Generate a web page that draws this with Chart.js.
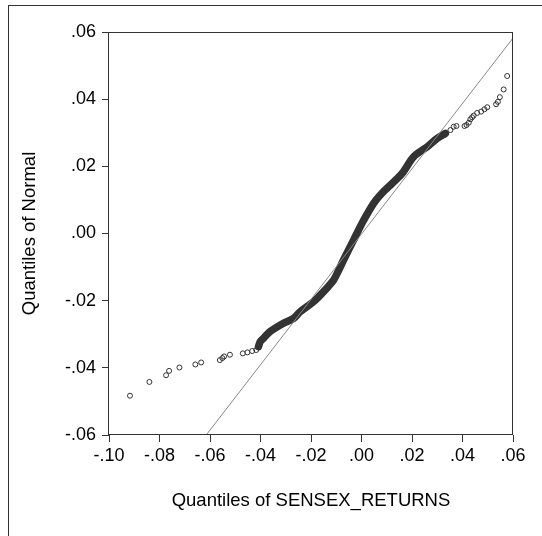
<!DOCTYPE html>
<html>
<head>
<meta charset="utf-8">
<script src="https://cdn.jsdelivr.net/npm/chart.js@4.4.1/dist/chart.umd.min.js"></script>
<style>
  html,body{margin:0;padding:0;background:#fff;}
  #wrap{position:relative;width:542px;height:536px;overflow:hidden;}
  #frame{position:absolute;left:8px;top:5px;width:600px;height:600px;border:1px solid #333;}
  #qq{position:absolute;left:0;top:0;}
</style>
</head>
<body>
<div id="wrap">
  <div id="frame"></div>
  <canvas id="qq" width="542" height="536"></canvas>
</div>
<script>
// sparse lower tail (SENSEX quantile, normal quantile)
const lowerTailX = [-0.0917,-0.0840,-0.0774,-0.0762,-0.0721,-0.0658,-0.0635,-0.0561,-0.0551,-0.0544,-0.0521,-0.0470,-0.0452,-0.0433,-0.0417];
const lowerTailY = [-0.0483,-0.0442,-0.0422,-0.0409,-0.0399,-0.0390,-0.0384,-0.0377,-0.0371,-0.0366,-0.0361,-0.0357,-0.0354,-0.0350,-0.0347];

// dense body of the plot, read along the band
const bodyX = [-0.0408,-0.0401,-0.0388,-0.0362,-0.0309,-0.0269,-0.0243,-0.0190,-0.0150,-0.0111,-0.0094,-0.0071,-0.0031,0.0009,0.0048,0.0081,0.0121,0.0161,0.0207,0.0260,0.0299,0.0332];
const bodyY = [-0.0337,-0.0322,-0.0312,-0.0292,-0.0267,-0.0253,-0.0233,-0.0203,-0.0173,-0.0139,-0.0115,-0.0079,-0.0019,0.0040,0.0090,0.0120,0.0149,0.0179,0.0229,0.0258,0.0283,0.0298];

// sparse upper tail
const upperTailX = [0.0352,0.0365,0.0376,0.0408,0.0416,0.0425,0.0431,0.0438,0.0444,0.0458,0.0474,0.0487,0.0498,0.0533,0.0540,0.0548,0.0563,0.0577];
const upperTailY = [0.0308,0.0318,0.0320,0.0320,0.0323,0.0330,0.0340,0.0346,0.0351,0.0359,0.0363,0.0370,0.0376,0.0385,0.0392,0.0406,0.0429,0.0469];

// reference line
const refLineX = [-0.0615, 0.06];
const refLineY = [-0.06, 0.0582];

const xTicks = [-0.10,-0.08,-0.06,-0.04,-0.02,0,0.02,0.04,0.06];
const xTickLabels = ["-.10","-.08","-.06","-.04","-.02",".00",".02",".04",".06"];
const yTicks = [-0.06,-0.04,-0.02,0,0.02,0.04,0.06];
const yTickLabels = ["-.06","-.04","-.02",".00",".02",".04",".06"];

const pts = (xs,ys)=>xs.map((x,i)=>({x:x, y:ys[i]}));

const FONT = "'Liberation Sans', Arial, sans-serif";
const INK = "#333";

const boxPlugin = {
    id:"box",
    afterDraw(chart){
        const {ctx, chartArea:a} = chart;
        ctx.save();
        ctx.strokeStyle = INK;
        ctx.lineWidth = 1;
        ctx.strokeRect(a.left-0.5, a.top+0.5, a.right-a.left, a.bottom-a.top-1);
        ctx.restore();
    }
};

new Chart(document.getElementById("qq"),{
    type:"scatter",
    data:{
        datasets:[
            {
                type:"line",
                data:pts(refLineX,refLineY),
                borderColor:"#8a8a8a",
                borderWidth:1,
                pointRadius:0,
                order:0
            },
            {
                data:pts(lowerTailX,lowerTailY).concat(pts(upperTailX,upperTailY)),
                pointRadius:2.5,
                pointBorderWidth:1,
                pointBorderColor:INK,
                pointBackgroundColor:"rgba(255,255,255,0)",
                order:1
            },
            {
                data:pts(bodyX,bodyY),
                showLine:true,
                borderColor:INK,
                borderWidth:7.5,
                borderCapStyle:"round",
                borderJoinStyle:"round",
                tension:0.3,
                pointRadius:2.5,
                pointBorderWidth:1,
                pointBorderColor:INK,
                pointBackgroundColor:"rgba(255,255,255,0)",
                order:2
            }
        ]
    },
    options:{
        responsive:false,
        devicePixelRatio:1,
        animation:false,
        layout:{ padding:{ left:0, right:29, top:32, bottom:0 } },
        plugins:{ legend:{ display:false }, tooltip:{ enabled:false } },
        scales:{
            x:{
                type:"linear",
                min:-0.10, max:0.06,
                afterBuildTicks:s=>{ s.ticks = xTicks.map(v=>({value:v})); },
                afterFit:s=>{ s.height = 101; },
                ticks:{ callback:(v,i)=>xTickLabels[i], color:"#000", font:{family:FONT,size:18}, padding:3, maxRotation:0, autoSkip:false },
                grid:{ drawOnChartArea:false, drawTicks:true, tickLength:7, color:INK },
                border:{ display:false },
                title:{ display:true, text:"Quantiles of SENSEX_RETURNS", color:"#000", font:{family:FONT,size:18.5}, padding:{top:0,bottom:24} }
            },
            y:{
                type:"linear",
                min:-0.06, max:0.06,
                afterBuildTicks:s=>{ s.ticks = yTicks.map(v=>({value:v})); },
                afterFit:s=>{ s.width = 109; },
                ticks:{ callback:(v,i)=>yTickLabels[i], color:"#000", font:{family:FONT,size:18}, padding:6, autoSkip:false },
                grid:{ drawOnChartArea:false, drawTicks:true, tickLength:7, color:INK },
                border:{ display:false },
                title:{ display:true, text:"Quantiles of Normal", color:"#000", font:{family:FONT,size:18.5}, padding:{top:19,bottom:0} }
            }
        }
    },
    plugins:[boxPlugin]
});
</script>
</body>
</html>
